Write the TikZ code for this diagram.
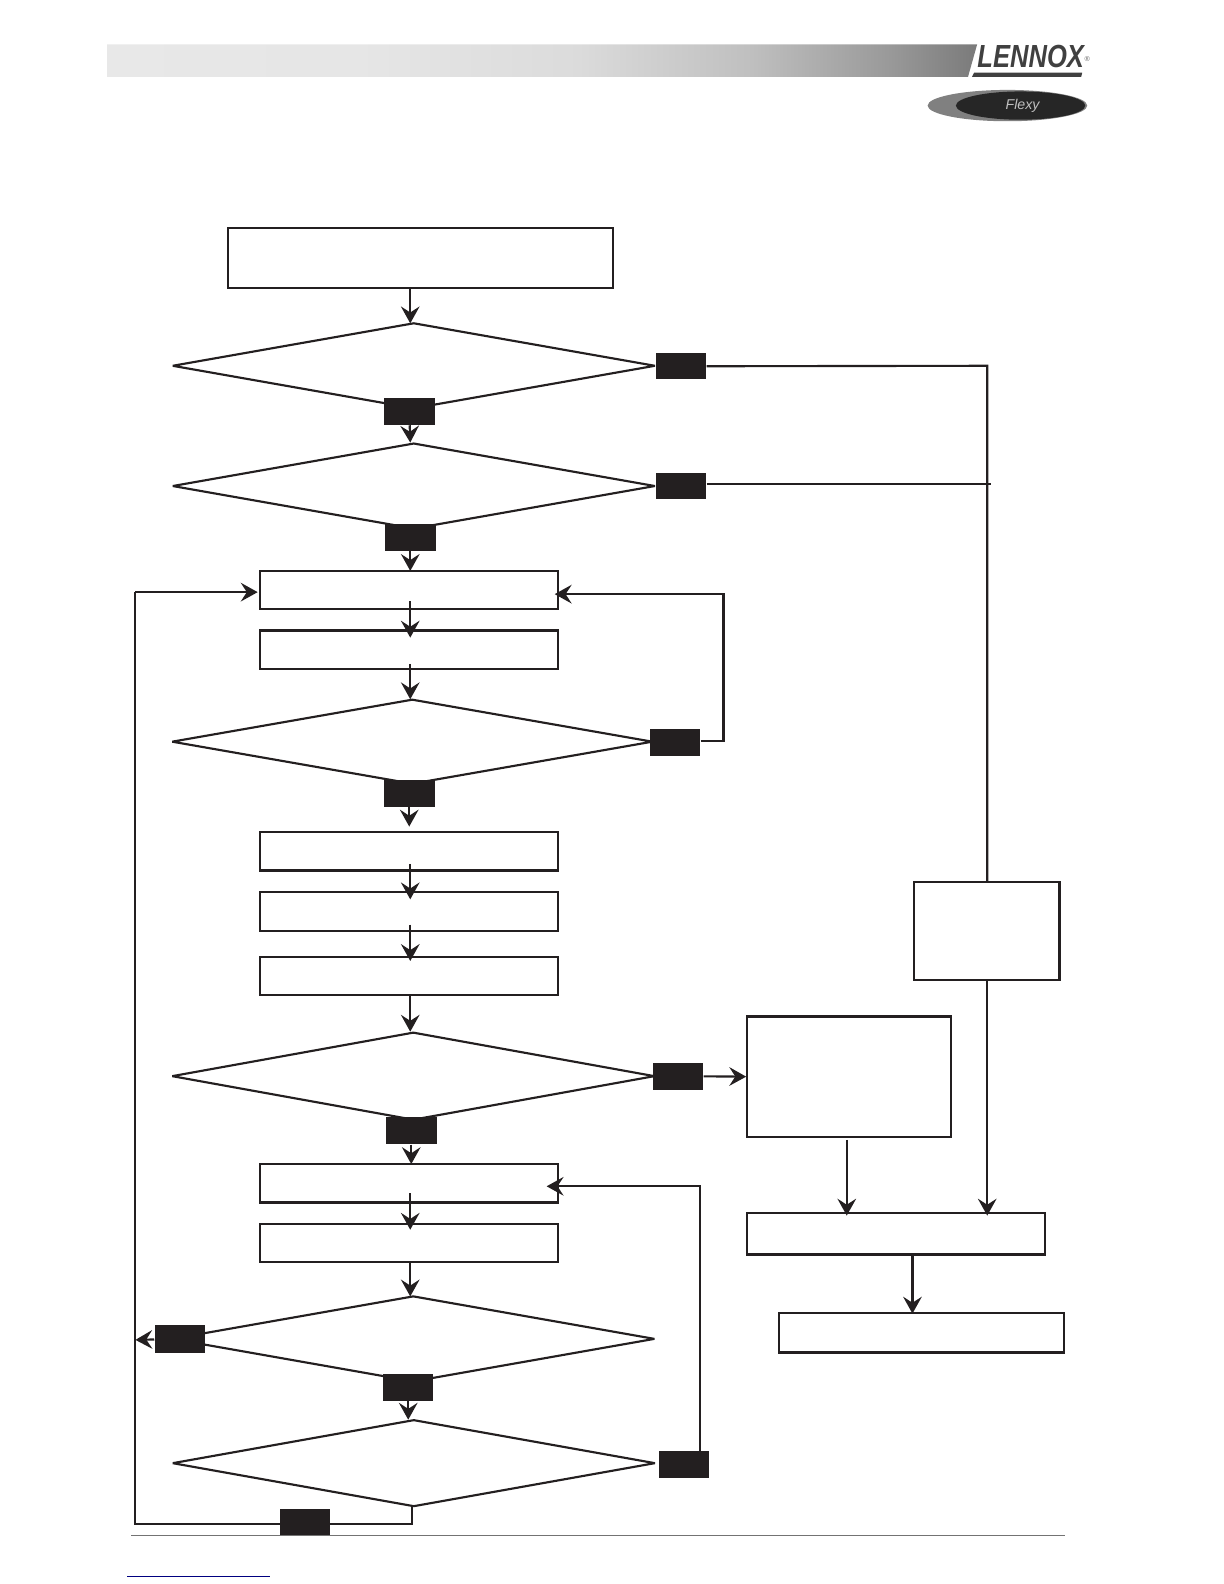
\documentclass[tikz,border=0pt]{standalone}
\usepackage{fontspec}
\newfontfamily\logofont{Liberation Sans}
\usetikzlibrary{arrows.meta,shapes.geometric}
\definecolor{inkblack}{HTML}{231F20}
\pgfdeclarehorizontalshading{barshade}{100bp}{
	color(0bp)=(black!9); color(25bp)=(black!9); color(40bp)=(black!10); color(52bp)=(black!14); color(62bp)=(black!25); color(70bp)=(black!40); color(75bp)=(black!52); color(100bp)=(black!52)}
\tikzset{
	box/.style={draw=inkblack, line width=1.2pt, fill=white, inner sep=0pt},
	dec/.style={draw=inkblack, line width=1.2pt, shape=diamond, line join=bevel, inner sep=0pt, minimum width=478*0.02cm, minimum height=85*0.02cm},
	tag/.style={fill=inkblack, inner sep=0pt, minimum width=50*0.02cm, minimum height=27*0.02cm},
	wire/.style={draw=inkblack, line width=1.2pt},
	flow/.style={wire, -{Stealth[length=9.5pt,width=10.5pt,inset=3.4pt]}}
}
\begin{document}
\begin{tikzpicture}[x=0.02cm, y=-0.02cm]
		\useasboundingbox (0,0) rectangle (1211.3,1567.6);

		% header
		\shade [shading=barshade] (106,44) -- (967,44) -- (958,76) -- (106,76) -- cycle;
		\node [anchor=west, inner sep=0pt, text=black!75, xscale=0.8, font=\logofont\bfseries\itshape\fontsize{18}{18}\selectfont] (lennox) at (967,56) {LENNOX};
		\node [inner sep=0pt, text=black!60, font=\logofont\fontsize{4}{4}\selectfont] (regmark) at (1076,58) {®};
		\fill [black!75] (964,72) -- (1071,72) -- (1070,76) -- (962,76) -- cycle;
		\node [ellipse, fill=black!50, inner sep=0pt, minimum width=158*0.02cm, minimum height=31*0.02cm] (badge) at (997,104.5) {};
		\node [ellipse, fill=black!85, inner sep=0pt, minimum width=128*0.02cm, minimum height=28*0.02cm] (badgein) at (1010,104.5) {};
		\node [inner sep=0pt, text=black!25, font=\logofont\itshape\fontsize{8}{8}\selectfont] (flexy) at (1012,104.5) {Flexy};

		% decisions
		\node [dec] (dec1) at (409.5,362) {};
		\node [dec] (dec2) at (409.5,481) {};
		\node [dec, minimum width=476*0.02cm, minimum height=84*0.02cm] (dec3) at (408,734) {};
		\node [dec, minimum height=87*0.02cm] (dec4) at (409,1065) {};
		\node [dec] (dec5) at (409,1325) {};
		\node [dec, minimum height=86*0.02cm] (dec6) at (409.5,1448) {};

		% boxes
		\node [box, minimum width=381*0.02cm, minimum height=59*0.02cm] (box1) at (416.5,255.5) {};
		\node [box, minimum width=295*0.02cm, minimum height=38*0.02cm] (box2) at (405,584) {};
		\node [box, minimum width=295*0.02cm, minimum height=38*0.02cm] (box3) at (405,643) {};
		\node [box, minimum width=295*0.02cm, minimum height=38*0.02cm] (box4) at (405,842.5) {};
		\node [box, minimum width=295*0.02cm, minimum height=38*0.02cm] (box5) at (405,902) {};
		\node [box, minimum width=295*0.02cm, minimum height=38*0.02cm] (box6) at (405,966) {};
		\node [box, minimum width=295*0.02cm, minimum height=38*0.02cm] (box7) at (405,1171) {};
		\node [box, minimum width=295*0.02cm, minimum height=38*0.02cm] (box8) at (405,1230) {};
		\node [box, minimum width=144*0.02cm, minimum height=97*0.02cm] (box9) at (976.5,921.5) {};
		\node [box, minimum width=202*0.02cm, minimum height=119*0.02cm] (box10) at (840.5,1065.5) {};
		\node [box, minimum width=295*0.02cm, minimum height=41*0.02cm] (box11) at (887,1221) {};
		\node [box, minimum width=282*0.02cm, minimum height=39*0.02cm] (box12) at (912,1319) {};

		% wires, under the tags
		\coordinate (a1) at (406,285);
		\coordinate (a2) at (406,320);
		\coordinate (a4) at (406,438);
		\coordinate (a6) at (406,565);
		\coordinate (a7) at (406,595);
		\coordinate (a8) at (406,631);
		\coordinate (a9) at (406,657);
		\coordinate (a10) at (406,692);
		\coordinate (a12) at (405,818);
		\coordinate (a13) at (406,855);
		\coordinate (a14) at (406,890);
		\coordinate (a15) at (406,915);
		\coordinate (a16) at (406,951);
		\coordinate (a17) at (406,985);
		\coordinate (a18) at (406,1021);
		\coordinate (a20) at (407,1152);
		\coordinate (a21) at (406,1181);
		\coordinate (a22) at (406,1217);
		\coordinate (a23) at (406,1249);
		\coordinate (a24) at (406,1283);
		\coordinate (a26) at (404,1405);
		\coordinate (r1) at (977,362);
		\coordinate (r2) at (981,479);
		\coordinate (r4) at (977,1203);
		\coordinate (r5) at (838,1128);
		\coordinate (r6) at (838,1203);
		\coordinate (r7) at (903,1300);
		\coordinate (r8) at (716,733);
		\coordinate (r9) at (716,588);
		\coordinate (r10) at (549,588);
		\coordinate (r12) at (693,1174);
		\coordinate (r13) at (541,1174);
		\coordinate (l1) at (408,1491);
		\coordinate (l2) at (408,1508);
		\coordinate (l3) at (134,1508);
		\coordinate (l4) at (134,586);
		\coordinate (l5) at (255,586);
		\coordinate (l6) at (134,1326);

		% tags
		\node [tag, minimum height=26*0.02cm] (tag1) at (674,362.5) {};
		\node [tag] (tag2) at (405,407) {};
		\node [tag, minimum height=26*0.02cm] (tag3) at (674,481) {};
		\node [tag, minimum height=26*0.02cm] (tag4) at (406,532) {};
		\node [tag] (tag5) at (668,734.5) {};
		\node [tag] (tag6) at (405,785) {};
		\node [tag] (tag7) at (671,1065) {};
		\node [tag] (tag8) at (407,1119) {};
		\node [tag] (tag9) at (178,1325) {};
		\node [tag] (tag10) at (404,1373) {};
		\node [tag] (tag11) at (677,1449.5) {};
		\node [tag] (tag12) at (302,1507) {};

		\draw [flow] (a1) to (a2);
		\draw [flow] (tag2) to (a4);
		\draw [flow] (tag4) to (a6);
		\draw [flow] (a7) to (a8);
		\draw [flow] (a9) to (a10);
		\draw [flow] (tag6) to (a12);
		\draw [flow] (a13) to (a14);
		\draw [flow] (a15) to (a16);
		\draw [flow] (a17) to (a18);
		\draw [flow] (tag8) to (a20);
		\draw [flow] (a21) to (a22);
		\draw [flow] (a23) to (a24);
		\draw [flow] (tag10) to (a26);

		\draw [wire] (tag1) to (r1) to (box9.north -| r1);
		\draw [wire] (tag3.east |- r2) to (r2);
		\draw [flow] (box9.south -| r1) to (r4);
		\draw [flow] (tag5.east |- r8) to (r8) to (r9) to (r10);
		\draw [flow] (tag7) to (box10.west);
		\draw [flow] (r5) to (r6);
		\draw [flow] (box11.south -| r7) to (r7);
		\draw [flow] (tag11.north -| r12) to (r12) to (r13);
		\draw [wire] (l1) to (l2) to (l3) to (l4);
		\draw [flow] (l4) to (l5);
		\draw [flow] (tag9) to (l6);

		% footer
		\coordinate (f1) at (130,1520);
		\coordinate (f2) at (1054,1520);
		\coordinate (f3) at (126,1560);
		\coordinate (f4) at (267,1560);
		\draw [black!55, line width=0.6pt] (f1) to (f2);
		\draw [blue!50!black, line width=0.7pt] (f3) to (f4);
\end{tikzpicture}
\end{document}
